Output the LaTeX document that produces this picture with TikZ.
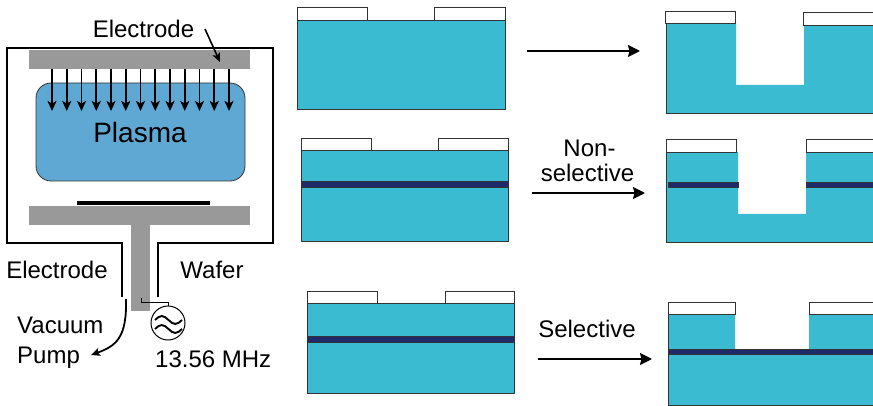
\documentclass[tikz,border=0pt]{standalone}
\usepackage{fontspec}
\setmainfont{Liberation Sans}
\usetikzlibrary{arrows.meta}
\definecolor{substrate}{HTML}{3BBBD1}
\definecolor{stopband}{HTML}{1F2A6B}
\definecolor{plasmablue}{HTML}{5FA8D3}
\definecolor{metal}{HTML}{999999}
\definecolor{edgegray}{HTML}{333333}

\begin{document}
\begin{tikzpicture}[x=1pt,y=-1pt,
  lbl/.style={font=\fontsize{24}{28}\selectfont, inner sep=0pt, anchor=base},
  sub/.style={fill=substrate, draw=edgegray, line width=0.8pt},
  subedge/.style={draw=edgegray, line width=0.8pt},
  mask/.style={fill=white, draw=edgegray, line width=0.8pt},
  band/.style={fill=stopband, draw=edgegray, line width=0.6pt},
  wall/.style={line width=2pt},
  ion/.style={line width=1.9pt, -{Stealth[length=10pt,width=9pt,inset=2.5pt]}},
  flow/.style={line width=2pt, -{Stealth[length=12pt,width=12pt,inset=1.5pt]}},
  thinwire/.style={line width=0.8pt}]
\useasboundingbox (0,0) rectangle (873,406);
\clip (0,0) rectangle (873,406);

% ---------------- plasma etch chamber ----------------
\draw[wall] (122,297) -- (122,243) -- (7,243) -- (7,48) -- (273,48)
            -- (273,243) -- (158,243) -- (158,297);
\fill[metal] (29,50) rectangle (250,69);
\draw[fill=plasmablue, draw=edgegray, line width=0.8pt, rounded corners=15pt]
  (36,83) rectangle (245,181);
\node[lbl, font=\fontsize{28}{31}\selectfont] (plasma) at (140,143) {Plasma};
\foreach \i in {0,...,12}{
  \coordinate (ionA\i) at (52+\i*14.75,69);
  \coordinate (ionB\i) at (52+\i*14.75,111);
  \draw[ion] (ionA\i) -- (ionB\i);
}
% upper electrode label
\node[lbl] (eltop) at (143.5,38) {Electrode};
\coordinate (eltail) at (205,29);
\coordinate (elhead) at (220,62);
\draw[line width=1.6pt, -{Stealth[length=9pt,width=8pt,inset=2pt]}] (eltail) -- (elhead);
% wafer on lower electrode
\fill (77,201) rectangle (210,205);
\fill[metal] (29,206) rectangle (250,225);
\fill[metal] (131,225) rectangle (150,311);
\node[lbl] (ellow) at (57,278) {Electrode};
\node[lbl] (wafer) at (212,278) {Wafer};
% vacuum pump line
\coordinate (pumpout) at (126,299);
\coordinate (pumpend) at (91,355);
\draw[line width=1.8pt, -{Stealth[length=9pt,width=8pt,inset=2pt]}]
  (pumpout) .. controls (127,338) and (116,346) .. (pumpend);
\node[lbl, anchor=base west] (vac) at (17,333) {Vacuum};
\node[lbl, anchor=base west] (pump) at (17,363) {Pump};
% RF source
\node[circle, draw, line width=1pt, minimum size=34pt, inner sep=0pt] (rf) at (168,323) {};
\coordinate (tap) at (141,298);
\draw[thinwire] (tap) -- (141,302) -- (rf.north |- 0,302) -- (rf.north);
\draw[line width=1.9pt] (155,320) sin (161.75,316) cos (168.5,320) sin (175.25,324) cos (182,320);
\draw[line width=1.9pt] (155,329) sin (161.75,325) cos (168.5,329) sin (175.25,333) cos (182,329);
\node[lbl, anchor=base west] (freq) at (155,367) {13.56 MHz};

% ---------------- row 1: single material ----------------
\draw[sub] (297,20) rectangle (505,109);
\draw[mask] (297,7) rectangle (367,20);
\draw[mask] (434,7) rectangle (505,20);
\coordinate (a1s) at (527,51);
\coordinate (a1e) at (640,51);
\draw[flow] (a1s) -- (a1e);
\fill[substrate] (666,23) -- (736,23) -- (736,85) -- (804,85) -- (804,25)
  -- (880,25) -- (880,113) -- (666,113) -- cycle;
\draw[subedge] (666,23) -- (666,113) -- (880,113);
\draw[mask] (665,11) rectangle (735,23);
\draw[mask] (803,12) rectangle (880,25);

% ---------------- row 2: non-selective ----------------
\draw[sub] (301,150) rectangle (508,241);
\draw[band] (301,181) rectangle (508,187);
\draw[mask] (301,138) rectangle (371,150);
\draw[mask] (438,138) rectangle (508,150);
\node[lbl] (nonsel1) at (589.5,157) {Non-};
\node[lbl] (nonsel2) at (587.5,182) {selective};
\coordinate (a2s) at (532,193);
\coordinate (a2e) at (645,193);
\draw[flow] (a2s) -- (a2e);
\fill[substrate] (666,152) -- (738,152) -- (738,214) -- (806,214) -- (806,152)
  -- (880,152) -- (880,242) -- (666,242) -- cycle;
\draw[subedge] (666,152) -- (666,242) -- (880,242);
\draw[band] (668,182) rectangle (738,187);
\draw[band] (806,182) rectangle (880,187);
\draw[mask] (666,139) rectangle (736,152);
\draw[mask] (806,139) rectangle (880,152);

% ---------------- row 3: selective ----------------
\draw[sub] (307,303) rectangle (514,393);
\draw[band] (307,336) rectangle (514,342);
\draw[mask] (307,291) rectangle (377,303);
\draw[mask] (445,291) rectangle (514,303);
\node[lbl] (sel) at (587,337) {Selective};
\coordinate (a3s) at (538,359);
\coordinate (a3e) at (652,359);
\draw[flow] (a3s) -- (a3e);
\fill[substrate] (668,314) -- (735,314) -- (735,349) -- (809,349) -- (809,314)
  -- (880,314) -- (880,405) -- (668,405) -- cycle;
\draw[subedge] (668,314) -- (668,405) -- (880,405);
\draw[band] (668,349) rectangle (880,354);
\draw[mask] (668,302) rectangle (735,314);
\draw[mask] (809,302) rectangle (880,314);
\end{tikzpicture}
\end{document}
